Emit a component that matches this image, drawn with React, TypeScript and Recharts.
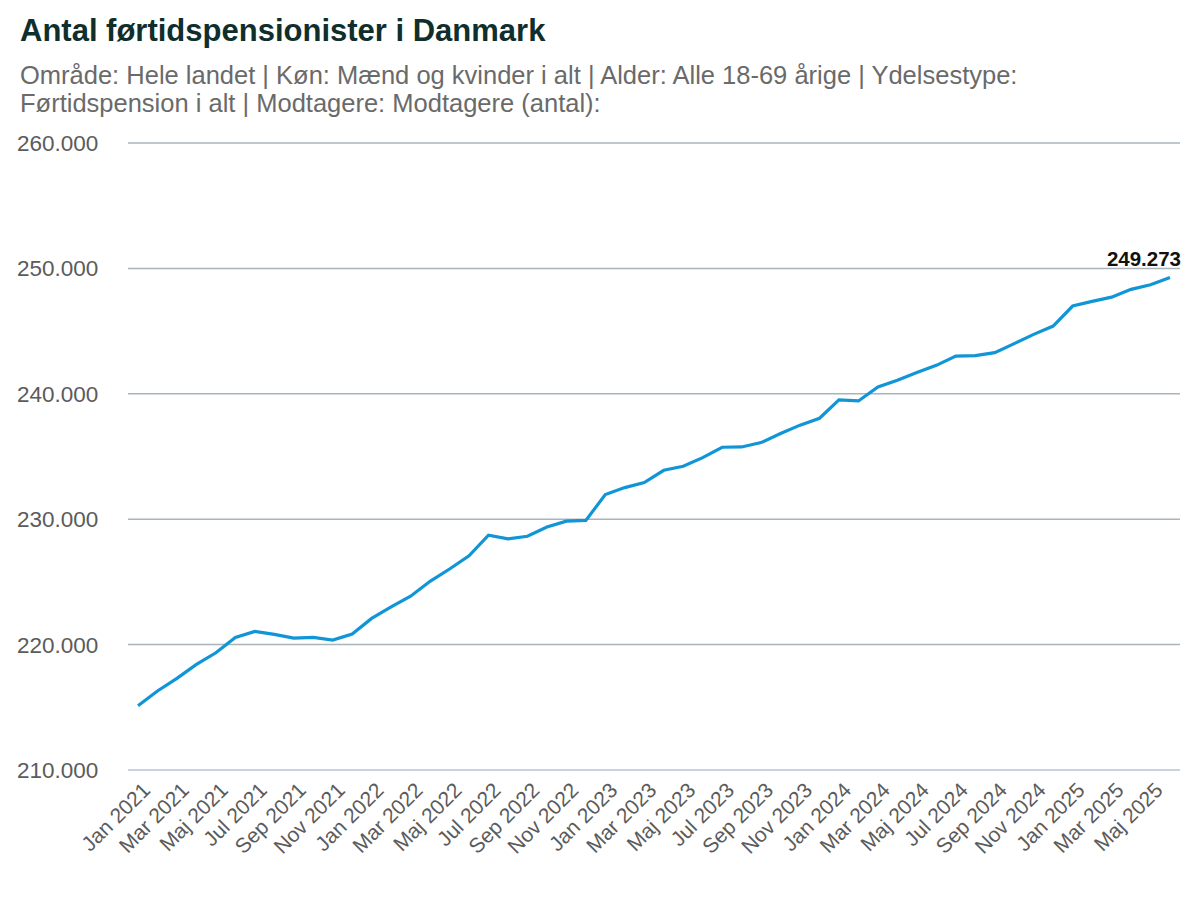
import React from 'react'
import { LineChart, Line, XAxis, YAxis, CartesianGrid } from 'recharts'

// Danish month abbreviations and years covered (Jan 2021 - Jun 2025)
const months = ['Jan', 'Feb', 'Mar', 'Apr', 'Maj', 'Jun', 'Jul', 'Aug', 'Sep', 'Okt', 'Nov', 'Dec']
const years = [2021, 2022, 2023, 2024, 2025]

// Modtagere (antal)
const receivers = [
  215120, 216300, 217310, 218420, 219350, 220570, 221050, 220810, 220520, 220570, 220360, 220840,
  222090, 223010, 223860, 225050, 226030, 227080, 228720, 228430, 228640, 229380, 229840, 229900,
  231970, 232520, 232920, 233900, 234220, 234910, 235740, 235760, 236110, 236830, 237500, 238050,
  239510, 239430, 240540, 241080, 241690, 242270, 243010, 243040, 243280, 244000, 244740, 245400,
  247000, 247370, 247710, 248330, 248700, 249273,
]

const yTicks = [210000, 220000, 230000, 240000, 250000, 260000]

const labels = years.flatMap(y => months.map(m => `${m} ${y}`)).slice(0, receivers.length)
const chartData = receivers.map((v, i) => ({ month: labels[i], value: v }))

const fmt = (v: number) => String(Math.round(v)).replace(/\B(?=(\d{3})+(?!\d))/g, '.')

const FONT = '"Liberation Sans", Arial, Helvetica, sans-serif'

const YTick = ({ y, payload }: any) => (
  <text x={17} y={y} dy={8} fontSize={22.5} fill="#5b5b5b" fontFamily={FONT}>
    {fmt(payload.value)}
  </text>
)

const XTick = ({ x, y, payload }: any) => (
  <text
    x={x}
    y={y}
    dx={0}
    dy={19}
    fontSize={21}
    fill="#5b5b5b"
    fontFamily={FONT}
    textAnchor="end"
    transform={`rotate(-45 ${x} ${y})`}
  >
    {payload.value}
  </text>
)

const LastLabel = ({ x, y, index }: any) => {
  if (index !== receivers.length - 1) return null
  return (
    <text x={x + 11} y={y - 12} textAnchor="end" fontSize={20.5} fontWeight="bold" fill="#111" fontFamily={FONT}>
      {fmt(receivers[index])}
    </text>
  )
}

export default function App() {
  return (
    <div style={{ position: 'absolute', left: 0, top: 0, width: 1200, height: 900, background: '#fff', fontFamily: FONT }}>
      <div style={{ position: 'absolute', left: 20, top: 13, fontSize: 31, lineHeight: '36px', fontWeight: 'bold', color: '#0f2e2c' }}>
        Antal førtidspensionister i Danmark
      </div>
      <div style={{ position: 'absolute', left: 20, top: 61, width: 1160, fontSize: 25.5, lineHeight: '28px', color: '#6a6a6a' }}>
        Område: Hele landet | Køn: Mænd og kvinder i alt | Alder: Alle 18-69 årige | Ydelsestype:
        <br />
        Førtidspension i alt | Modtagere: Modtagere (antal):
      </div>
      <div style={{ position: 'absolute', left: 0, top: 0 }}>
        <LineChart width={1200} height={900} data={chartData} margin={{ top: 143, right: 20, bottom: 10, left: 0 }}>
          <CartesianGrid vertical={false} stroke="#a9b4bb" strokeWidth={1.5} />
          <XAxis
            dataKey="month"
            interval={1}
            tick={<XTick />}
            tickLine={false}
            axisLine={{ stroke: '#ccd0e3', strokeWidth: 2 }}
            padding={{ left: 10, right: 10 }}
            height={120}
          />
          <YAxis
            domain={[210000, 260000]}
            ticks={yTicks}
            tick={<YTick />}
            axisLine={false}
            tickLine={false}
            width={128}
          />
          <Line
            type="linear"
            dataKey="value"
            stroke="#1096d6"
            strokeWidth={3.2}
            dot={false}
            isAnimationActive={false}
            label={<LastLabel />}
          />
        </LineChart>
      </div>
    </div>
  )
}
